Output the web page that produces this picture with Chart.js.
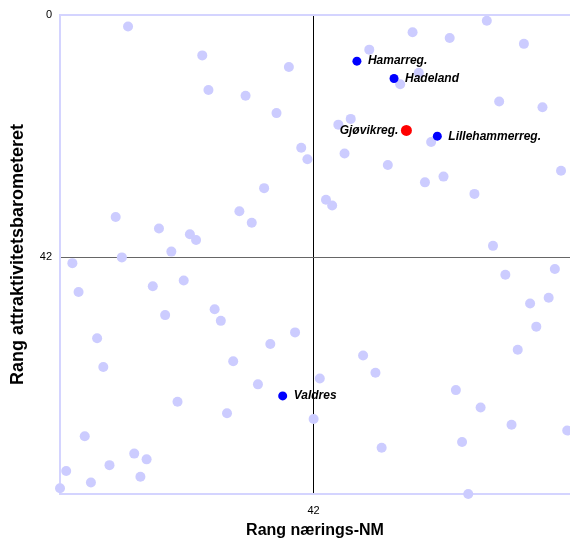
<!DOCTYPE html>
<html>
<head>
<meta charset="utf-8">
<script src="https://cdn.jsdelivr.net/npm/chart.js@4.4.0/dist/chart.umd.min.js"></script>
<style>
  body { margin: 0; background: #fff; }
</style>
</head>
<body>
<canvas id="myChart" width="570" height="540"></canvas>
<script>
// rank pairs for the other regions (x = nærings-NM, y = attraktivitet)
const otherX = [12, 24, 38, 25, 31, 36, 40, 41, 34, 30, 10, 32, 17, 22, 23, 19, 11,
                70, 58, 64, 51, 76, 59, 56, 72, 79, 48, 46, 61, 47, 54, 82, 63, 60, 68, 44, 45, 71,
                3, 4, 16, 21, 18, 26, 27, 7, 39, 35, 8, 29, 33, 20, 28, 42, 5, 13, 15, 9, 2, 14, 6, 1,
                81, 73, 80, 77, 78, 75, 50, 52, 43, 65, 69, 74, 83, 66, 53, 67];
const otherY = [2, 7, 9, 13, 14, 17, 23, 25, 30, 34, 35, 36, 37, 38, 39, 41, 42,
                1, 3, 4, 6, 5, 10, 12, 15, 16, 18, 19, 22, 24, 26, 27, 28, 29, 31, 32, 33, 40,
                43, 48, 47, 46, 52, 51, 53, 56, 55, 57, 61, 60, 64, 67, 69, 70, 73, 76, 77, 78, 79, 80, 81, 82,
                44, 45, 49, 50, 54, 58, 59, 62, 63, 65, 68, 71, 72, 74, 75, 83];

const markedNames = ['Hamarreg.', 'Hadeland', 'Lillehammerreg.', 'Valdres'];
const markedX = [49, 55, 62, 37];
const markedY = [8, 11, 21, 66];

const homeNames = ['Gjøvikreg.'];
const homeX = [57];
const homeY = [20];

const xTicks = [42];
const yTicks = [0, 42];

const lavender = '#d4d4ff';
const fontFamily = 'Arial, "Liberation Sans", sans-serif';

const toPoints = (xs, ys) => xs.map((x, i) => ({ x: x, y: ys[i] }));

// names next to the highlighted dots
const pointLabels = {
    id: 'pointLabels',
    afterDatasetsDraw(chart) {
        const ctx = chart.ctx;
        ctx.save();
        ctx.font = 'italic bold 12px ' + fontFamily;
        ctx.fillStyle = '#000';
        ctx.textBaseline = 'middle';

        ctx.textAlign = 'right';
        chart.getDatasetMeta(0).data.forEach((pt, i) => {
            ctx.fillText(homeNames[i], pt.x - 8, pt.y);
        });

        ctx.textAlign = 'left';
        chart.getDatasetMeta(1).data.forEach((pt, i) => {
            ctx.fillText(markedNames[i], pt.x + 11, pt.y);
        });
        ctx.restore();
    }
};

Chart.defaults.font.family = fontFamily;
Chart.defaults.color = '#000';

const ctx = document.getElementById('myChart');

const config = {
    type: 'scatter',
    data: {
        datasets: [
            {
                label: 'Gjøvik',
                data: toPoints(homeX, homeY),
                backgroundColor: '#ff0000',
                borderWidth: 0,
                pointRadius: 5.5,
                clip: false
            },
            {
                label: 'Nabo',
                data: toPoints(markedX, markedY),
                backgroundColor: '#0000ff',
                borderWidth: 0,
                pointRadius: 4.5,
                clip: false
            },
            {
                label: 'Andre',
                data: toPoints(otherX, otherY),
                backgroundColor: '#ccccff',
                borderWidth: 0,
                pointRadius: 5,
                clip: false
            }
        ]
    },
    options: {
        responsive: false,
        animation: false,
        layout: {
            autoPadding: false,
            padding: { top: 15, right: 0, left: 0, bottom: 0 }
        },
        plugins: {
            legend: { display: false },
            tooltip: { enabled: false }
        },
        scales: {
            x: {
                type: 'linear',
                min: 1,
                max: 83.45,
                afterBuildTicks: s => { s.ticks = xTicks.map(v => ({ value: v })); },
                afterFit: s => {
                    s.height = 46;
                    s.paddingLeft = 0;
                    s.paddingRight = 0;
                },
                grid: { color: '#000', lineWidth: 1, drawTicks: false },
                border: { color: lavender, width: 2 },
                ticks: { padding: 10, font: { size: 11 } },
                title: {
                    display: true,
                    text: 'Rang nærings-NM',
                    font: { size: 16, weight: 'bold' },
                    padding: 0
                }
            },
            y: {
                type: 'linear',
                reverse: true,
                min: 0,
                max: 83,
                afterBuildTicks: s => { s.ticks = yTicks.map(v => ({ value: v })); },
                afterFit: s => { s.width = 60; },
                grid: {
                    color: c => c.tick && c.tick.value === 0 ? lavender : '#666',
                    lineWidth: c => c.tick && c.tick.value === 0 ? 2 : 1,
                    drawTicks: false
                },
                border: { color: lavender, width: 2 },
                ticks: { padding: 8, font: { size: 11 } },
                title: {
                    display: true,
                    text: 'Rang attraktivitetsbarometeret',
                    font: { size: 18, weight: 'bold' },
                    padding: { top: 7, bottom: 0 }
                }
            }
        }
    },
    plugins: [pointLabels]
};

const myChart = new Chart(ctx, config);
</script>
</body>
</html>
